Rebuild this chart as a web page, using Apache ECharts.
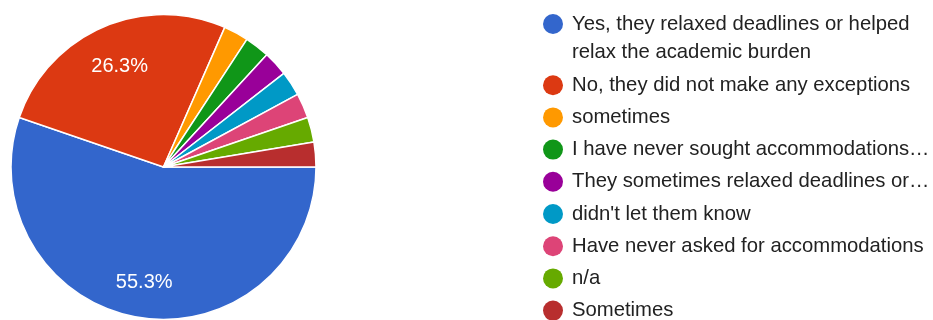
<!DOCTYPE html>
<html><head><meta charset="utf-8">
<script src="https://cdn.jsdelivr.net/npm/echarts@6/dist/echarts.min.js"></script>
<style>html,body{margin:0;padding:0;background:#fff}#c{width:933px;height:320px}</style>
</head><body><div id="c"></div>
<script>
const categories = [
  'Yes, they relaxed deadlines or helped relax the academic burden',
  'No, they did not make any exceptions',
  'sometimes',
  'I have never sought accommodations…',
  'They sometimes relaxed deadlines or…',
  "didn't let them know",
  'Have never asked for accommodations',
  'n/a',
  'Sometimes'
];
const counts = [21, 10, 1, 1, 1, 1, 1, 1, 1];
const colors = ['#3366cc', '#dc3912', '#ff9900', '#109618', '#990099', '#0099c6', '#dd4477', '#66aa00', '#b82e2e'];

const FONT = '"Liberation Sans", Arial, sans-serif';
const chart = echarts.init(document.getElementById('c'), null, {renderer: 'canvas'});

const pieData = categories.map((n, i) => ({name: n, value: counts[i], itemStyle: {color: colors[i]}}));
// transparent copy of the pie that only carries the percentage label of one slice
function labelSeries(labelIndex, innerR) {
  return {
    type: 'pie',
    center: [163.5, 167],
    radius: [innerR, 152.5],
    startAngle: 0,
    clockwise: true,
    silent: true,
    percentPrecision: 1,
    itemStyle: {color: 'rgba(0,0,0,0)'},
    emphasis: {disabled: true},
    labelLine: {show: false},
    label: {
      show: false,
      position: 'inside',
      formatter: '{d}%',
      color: '#ffffff',
      fontFamily: FONT,
      fontSize: 20,
      textBorderWidth: 0
    },
    data: categories.map((n, i) => ({name: n, value: counts[i], label: {show: i === labelIndex}}))
  };
}

chart.setOption({
  animation: false,
  color: colors,
  legend: {
    orient: 'vertical',
    left: 543,
    top: -18,
    padding: 0,
    itemWidth: 28,
    itemHeight: 20,
    itemGap: 6.2,
    icon: 'circle',
    selectedMode: false,
    itemStyle: {borderWidth: 0},
    formatter: (name) => name === categories[0] ? '\n' + name : name,
    textStyle: {fontFamily: FONT, fontSize: 20.3, color: '#222222', lineHeight: 26},
    data: categories.map((n, i) => i === 0
      ? {name: n, textStyle: {width: 365, overflow: 'break', lineHeight: 28}}
      : {name: n})
  },
  series: [
    {
      type: 'pie',
      center: [163.5, 167],
      radius: [0, 152.5],
      startAngle: 0,
      clockwise: true,
      silent: true,
      label: {show: false},
      labelLine: {show: false},
      emphasis: {disabled: true},
      itemStyle: {borderColor: '#ffffff', borderWidth: 1.5},
      data: pieData
    },
    labelSeries(0, 76),
    labelSeries(1, 60)
  ]
});
</script>
</body></html>
